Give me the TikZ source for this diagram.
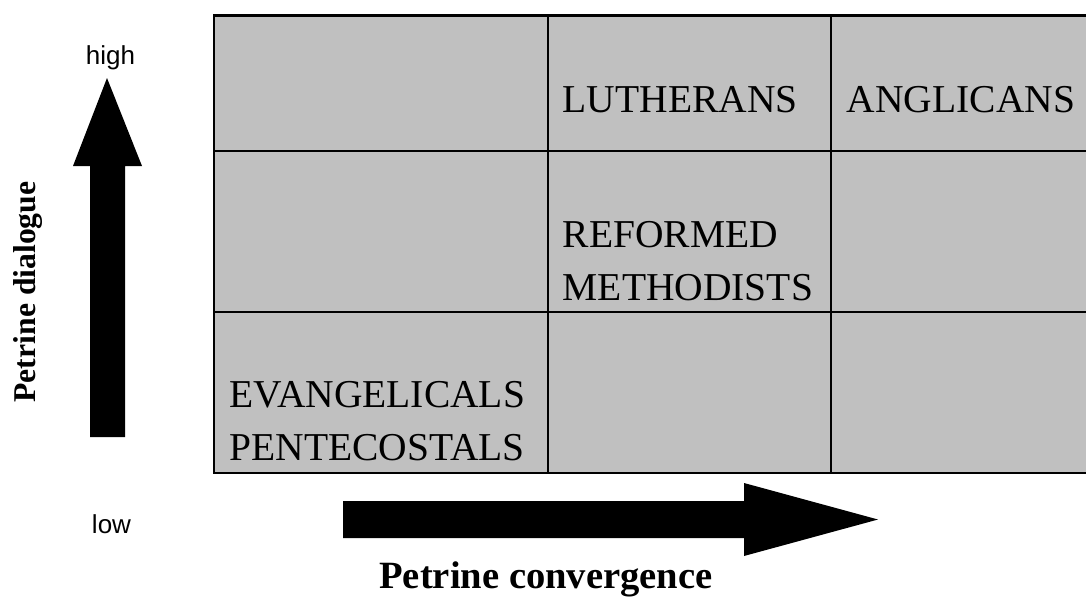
\documentclass[tikz,border=0pt]{standalone}
\usepackage{fontspec}
\setmainfont{Liberation Serif}
\newfontfamily\arialfont{Liberation Sans}
\usetikzlibrary{positioning}
\definecolor{cellgray}{RGB}{192,192,192}

\begin{document}
\begin{tikzpicture}[x=1pt,y=-1pt,
  church/.style={anchor=base west, inner sep=0pt, align=left, font=\fontsize{39.5}{53}\selectfont},
  axislabel/.style={inner sep=0pt, anchor=base, font=\bfseries\fontsize{38.6}{44}\selectfont},
  endlabel/.style={inner sep=0pt, anchor=base, font=\arialfont\fontsize{26}{30}\selectfont},
  gridline/.style={line width=2.5pt}]
\useasboundingbox (0,0) rectangle (1086,597);

% Griglia
\fill[cellgray] (214,15.5) rectangle (1092,473);
\draw[gridline] (1092,15.5) -- (214,15.5) -- (214,473) -- (1092,473);
\foreach \y in {151,312} \draw[gridline] (214,\y) -- (1092,\y);
\foreach \x in {548,831} \draw[gridline] (\x,15.5) -- (\x,473);

% Chiese (base = ultima riga)
\node[church] (luth) at (562.6,112.7) {LUTHERANS};
\node[church] (angl) at (846.6,112.7) {ANGLICANS};
\node[church] (refo) at (562.6,300) {REFORMED\\METHODISTS};
\node[church] (evan) at (229.3,460) {EVANGELICALS\\PENTECOSTALS};

% Frecce
\fill (90,437) -- (90,166) -- (73,166) -- (107,78) -- (142,166) -- (125,166) -- (125,437) -- cycle;
\fill (343,501) -- (744,501) -- (744,483) -- (878,519.5) -- (744,556) -- (744,538) -- (343,538) -- cycle;

\node[endlabel] (high) at (110.5,64) {high};
\node[endlabel] (low) at (111.5,533) {low};
\node[axislabel, rotate=90, font=\bfseries\fontsize{31.7}{36}\selectfont] (dialogue) at (35,292) {Petrine dialogue};
\node[axislabel] (convergence) at (546,588) {Petrine convergence};
\end{tikzpicture}
\end{document}
